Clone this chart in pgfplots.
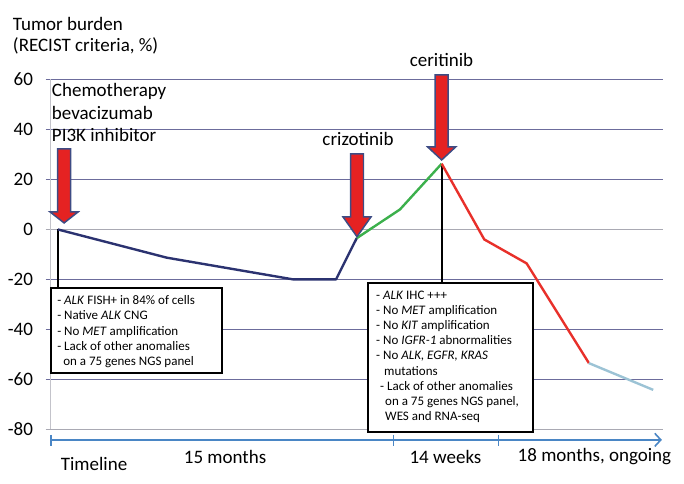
\documentclass[border=0pt]{standalone}
\usepackage{fontspec}
\setmainfont{Carlito}
\usepackage{pgfplots}
\pgfplotsset{compat=1.18}
\usetikzlibrary{arrows.meta}
\definecolor{navyline}{HTML}{2B3270}
\definecolor{greenline}{HTML}{3CB04C}
\definecolor{redline}{HTML}{E8302A}
\definecolor{lblue}{HTML}{9CC3D5}
\definecolor{gridp}{HTML}{6C6C9C}
\definecolor{gridg}{HTML}{A9A9B3}
\definecolor{arrred}{HTML}{E52222}
\definecolor{arredge}{HTML}{3E4C84}
\definecolor{tlblue}{HTML}{4A86C5}
\newcommand\bigfont{\fontsize{19}{22.5}\selectfont}
\newcommand\smallfont{\fontsize{13}{15.2}\selectfont}
\begin{document}
\begin{tikzpicture}
\begin{axis}[
  scale only axis, width=684pt, height=484pt,
  xmin=0, xmax=684, ymin=-101.8, ymax=91.8,
  axis line style={draw=none}, clip=false,
  xtick=\empty,
  ytick={-80,-60,-40,-20,0,20,40,60},
  yticklabels={-80,-60,-40,-20,0,20,40,60},
  major tick length=0pt,
  yticklabel style={anchor=east, inner sep=0pt, xshift=33pt, font=\bigfont},
]
% grid lines
\draw[gridp, line width=1.3pt] (axis cs:45.5,60) -- (axis cs:663,60);
\draw[gridp, line width=1.3pt] (axis cs:45.5,40) -- (axis cs:663,40);
\draw[gridp, line width=1.3pt] (axis cs:45.5,20) -- (axis cs:663,20);
\draw[gridg, line width=1.3pt] (axis cs:45.5,0) -- (axis cs:663,0);
\draw[gridp, line width=1.3pt] (axis cs:45.5,-20) -- (axis cs:663,-20);
\draw[gridp, line width=1.3pt] (axis cs:45.5,-40) -- (axis cs:663,-40);
\draw[gridp, line width=1.3pt] (axis cs:45.5,-60) -- (axis cs:663,-60);
\draw[gridg, line width=1.3pt] (axis cs:45.5,-80) -- (axis cs:663,-80);
\draw[gridg!70, line width=1pt] (axis cs:50.7,60) -- (axis cs:50.7,-80);

% boxes
\draw[black, line width=1.8pt, fill=white] (axis cs:51,-23.5) rectangle (axis cs:222,-57.5);
\draw[black, line width=1.8pt, fill=white] (axis cs:368.3,-21.3) rectangle (axis cs:533.3,-80.9);
\node[anchor=north west, inner sep=0pt, align=left, font=\smallfont] at (axis cs:57,-26.4)
 {- \textit{ALK} FISH+ in 84\% of cells\\
  - Native \textit{ALK} CNG\\
  - No \textit{MET} amplification\\
  - Lack of other anomalies\\
  \hspace*{6pt}on a 75 genes NGS panel};
\node[anchor=north west, inner sep=0pt, align=left, font=\smallfont] at (axis cs:376,-24.4)
 {- \textit{ALK} IHC +++\\
  - No \textit{MET} amplification\\
  - No \textit{KIT} amplification\\
  - No \textit{IGFR-1} abnormalities\\
  - No \textit{ALK, EGFR, KRAS}\\
  \hspace*{8pt}mutations\\
  \hspace*{4pt}- Lack of other anomalies\\
  \hspace*{9pt}on a 75 genes NGS panel,\\
  \hspace*{9pt}WES and RNA-seq};

% connector lines
\draw[black, line width=2pt] (axis cs:57.7,0) -- (axis cs:57.7,-23.5);
\draw[black, line width=2pt] (axis cs:441.7,26.3) -- (axis cs:441.7,-21.3);

% data
\addplot[navyline, line width=2.4pt, line join=round] coordinates {(57.7,0) (166.7,-11.3) (293.3,-20) (336,-20) (356.7,-3.5)};
\addplot[greenline, line width=2.4pt, line join=round] coordinates {(356.7,-3.5) (400,8) (441.7,26.3)};
\addplot[redline, line width=2.4pt, line join=round] coordinates {(441.7,26.3) (484.3,-4) (526.7,-13.6) (589,-53.5)};
\addplot[lblue, line width=2.4pt, line join=round] coordinates {(589,-53.5) (653.3,-64.2)};

% treatment arrows
\filldraw[fill=arrred, draw=arredge, line width=1.5pt] (axis cs:57.5,32.2) -- (axis cs:70.5,32.2) -- (axis cs:70.5,7) -- (axis cs:78,7) -- (axis cs:64,2.6) -- (axis cs:50,7) -- (axis cs:57.5,7) -- cycle;
\filldraw[fill=arrred, draw=arredge, line width=1.5pt] (axis cs:350.5,30.2) -- (axis cs:363.5,30.2) -- (axis cs:363.5,5) -- (axis cs:371,5) -- (axis cs:357,-2.9) -- (axis cs:343,5) -- (axis cs:350.5,5) -- cycle;
\filldraw[fill=arrred, draw=arredge, line width=1.5pt] (axis cs:435.2,61.8) -- (axis cs:448.2,61.8) -- (axis cs:448.2,33) -- (axis cs:455.7,33) -- (axis cs:441.7,27.8) -- (axis cs:427.7,33) -- (axis cs:435.2,33) -- cycle;

% labels
\node[anchor=base west, inner sep=0pt, font=\bigfont] at (axis cs:12.7,79.6) {Tumor burden};
\node[anchor=base west, inner sep=0pt, font=\bigfont] at (axis cs:12.7,71) {(RECIST criteria, \%)};
\node[anchor=base west, inner sep=0pt, font=\bigfont] at (axis cs:51.7,53) {Chemotherapy};
\node[anchor=base west, inner sep=0pt, font=\bigfont] at (axis cs:51.7,44.1) {bevacizumab};
\node[anchor=base west, inner sep=0pt, font=\bigfont] at (axis cs:51.7,35.1) {PI3K inhibitor};
\node[anchor=base, inner sep=0pt, font=\bigfont] at (axis cs:358,33.4) {crizotinib};
\node[anchor=base, inner sep=0pt, font=\bigfont] at (axis cs:441.5,65) {ceritinib};

% timeline
\draw[tlblue, line width=1.6pt, -{Straight Barb[length=6pt,width=13pt,line width=1.6pt]}] (axis cs:51,-84.2) -- (axis cs:662,-84.2);
\draw[tlblue, line width=1.2pt] (axis cs:51,-82.2) -- (axis cs:51,-86.6);
\draw[tlblue, line width=1.2pt] (axis cs:393.3,-82.2) -- (axis cs:393.3,-86.6);
\draw[tlblue, line width=1.2pt] (axis cs:498.3,-82.2) -- (axis cs:498.3,-86.6);
\node[anchor=center, inner sep=0pt, font=\bigfont] at (axis cs:94,-93.8) {Timeline};
\node[anchor=center, inner sep=0pt, font=\bigfont] at (axis cs:225,-91) {15 months};
\node[anchor=center, inner sep=0pt, font=\bigfont] at (axis cs:445.5,-91) {14 weeks};
\node[anchor=center, inner sep=0pt, font=\bigfont] at (axis cs:594.5,-91) {18 months, ongoing};
\end{axis}
\end{tikzpicture}
\end{document}
